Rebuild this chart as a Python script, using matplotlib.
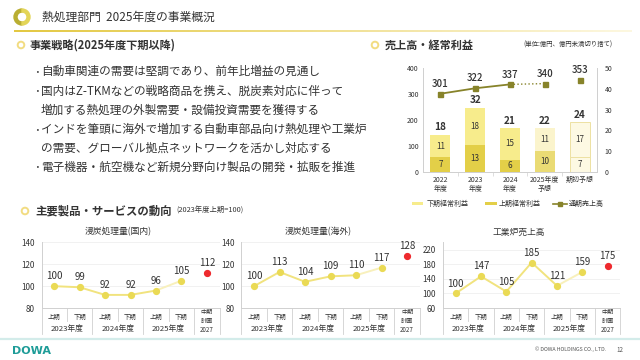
import matplotlib
matplotlib.use('Agg')
import matplotlib.pyplot as plt
from matplotlib.patches import Circle, Wedge, Rectangle
from matplotlib.collections import LineCollection
import numpy as np

plt.rcParams['font.family'] = ['Noto Sans CJK JP', 'DejaVu Sans']

# ---- data ----
strategy_bullets = [
    '自動車関連の需要は堅調であり、前年比増益の見通し',
    '国内はZ-TKMなどの戦略商品を携え、脱炭素対応に伴って',
    '増加する熱処理の外製需要・設備投資需要を獲得する',
    'インドを筆頭に海外で増加する自動車部品向け熱処理や工業炉',
    'の需要、グローバル拠点ネットワークを活かし対応する',
    '電子機器・航空機など新規分野向け製品の開発・拡販を推進',
]
bullet_start = [True, True, False, True, False, True]

bar_cats = ['2022\n年度', '2023\n年度', '2024\n年度', '2025年度\n予想', '期初予想']
sales = [301, 322, 337, 340, 353]
profit_h1 = [7, 13, 6, 10, 7]
profit_h2 = [11, 18, 15, 11, 17]
profit_total = [18, 32, 21, 22, 24]

period_labels = ['上期', '下期', '上期', '下期', '上期', '下期']
plan_label = '中期\n計画\n2027'
year_labels = ['2023年度', '2024年度', '2025年度']
domestic = [100, 99, 92, 92, 96, 105, 112]
overseas = [100, 113, 104, 109, 110, 117, 128]
furnace = [100, 147, 105, 185, 121, 159, 175]

TXT = '#333333'
W, H = 640, 360
fig = plt.figure(figsize=(6.4, 3.6), dpi=100)


def box(l, t, r, b):
    return [l / W, 1 - b / H, (r - l) / W, (b - t) / H]


bg = fig.add_axes([0, 0, 1, 1])
bg.set_xlim(0, W)
bg.set_ylim(H, 0)
bg.axis('off')

# title + ring
bg.add_patch(Wedge((22, 17), 8, 90, 270, width=3, color='#B9AE32'))
bg.add_patch(Wedge((22, 17), 8, -90, 90, width=3, color='#E3D558'))
bg.text(42, 17, '熱処理部門  2025年度の事業概況', fontsize=8.5, color=TXT, va='center')

# gold rule fading to the right
xs = np.linspace(14, 632, 160)
segs = [[(xs[i], 31), (xs[i + 1], 31)] for i in range(len(xs) - 1)]
t = np.linspace(0, 1, len(segs))
c0 = np.array([0.89, 0.78, 0.24])
c1 = np.array([0.99, 0.97, 0.88])
cols = [tuple(c0 * (1 - v) + c1 * v) for v in t]
bg.add_collection(LineCollection(segs, colors=cols, linewidths=1.4))

# section headers
for cx, cy in [(21, 45), (375, 45), (25, 211)]:
    bg.add_patch(Circle((cx, cy), 3.3, fill=False, lw=1.4, ec='#F2DC82'))
bg.text(30, 45, '事業戦略(2025年度下期以降)', fontsize=8, fontweight='bold', color=TXT, va='center')
bg.text(385, 45, '売上高・経常利益', fontsize=8, fontweight='bold', color=TXT, va='center')
bg.text(523, 45, '(単位:億円、億円未満切り捨て)', fontsize=4.6, color=TXT, va='center')
bg.text(35, 211, '主要製品・サービスの動向', fontsize=8.2, fontweight='bold', color=TXT, va='center')
bg.text(176, 211, '(2023年度上期=100)', fontsize=5.3, color=TXT, va='center')

# bullets
line_y = [71.5, 91, 110, 129.5, 148.5, 167]
for txt, y, dot in zip(strategy_bullets, line_y, bullet_start):
    if dot:
        bg.text(34.5, y, '･', fontsize=8.4, color=TXT, va='center', ha='left')
    bg.text(41, y, txt, fontsize=8.4, color=TXT, va='center')

# footer
bg.plot([0, W], [339, 339], color='#D3ECEA', lw=1.6)
bg.text(12, 351, 'DOWA', fontsize=8, fontweight='bold', color='#1E9C98', va='center',
        family='DejaVu Sans')
bg.text(571, 349.5, '© DOWA HOLDINGS CO., LTD.', fontsize=3.8, color='#555555', va='center', ha='center')
bg.text(620, 349.5, '12', fontsize=4.5, color='#555555', va='center', ha='center')

# ---- sales / profit chart ----
bx = np.arange(len(bar_cats))
ax_s = fig.add_axes(box(423, 68, 597, 172))
ax_p = ax_s.twinx()
ax_s.set_zorder(ax_p.get_zorder() + 1)
ax_s.patch.set_visible(False)

h1_cols = ['#E3CF48', '#E3CF48', '#E3CF48', '#EADB74', '#FDF9E3']
h2_cols = ['#F7EC8C', '#F7EC8C', '#F7EC8C', '#FBF4CC', '#FDF9E3']
edges = ['none', 'none', 'none', 'none', '#EDE1A2']
ax_p.bar(bx, profit_h1, width=0.58, color=h1_cols, edgecolor=edges, linewidth=0.7)
ax_p.bar(bx, profit_h2, width=0.58, bottom=profit_h1, color=h2_cols, edgecolor=edges, linewidth=0.7)
for i in bx:
    ax_p.text(i, profit_h1[i] / 2, str(profit_h1[i]), ha='center', va='center', fontsize=5.8, color=TXT)
    ax_p.text(i, profit_h1[i] + profit_h2[i] / 2, str(profit_h2[i]), ha='center', va='center',
              fontsize=5.8, color=TXT)
    ax_p.annotate(str(profit_total[i]), (i, profit_h1[i] + profit_h2[i]), xytext=(0, 1.5),
                  textcoords='offset points', ha='center', va='bottom', fontsize=7.2,
                  fontweight='bold', color=TXT)

olive = '#87832A'
ax_s.plot(bx[:3], sales[:3], '-s', color=olive, lw=1.3, ms=3.6)
ax_s.plot(bx[2:4], sales[2:4], ':', color=olive, lw=1.0)
ax_s.plot(bx[3:], sales[3:], 's', color=olive, ms=3.6)
for i in bx:
    ax_s.annotate(str(sales[i]), (i, sales[i]), xytext=(0, 3.5), textcoords='offset points',
                  ha='center', va='bottom', fontsize=7, fontweight='medium', color=TXT)

ax_s.set_xlim(-0.5, 4.5)
ax_s.set_ylim(0, 400)
ax_p.set_ylim(0, 50)
ax_s.set_yticks(range(0, 401, 100))
ax_p.set_yticks(range(0, 51, 10))
ax_s.set_xticks(bx, bar_cats)
ax_s.set_xticks(bx[:-1] + 0.5, minor=True)
ax_s.tick_params(axis='x', which='major', length=0, pad=3, labelsize=5, labelcolor=TXT)
ax_s.tick_params(axis='x', which='minor', length=3, color='#D8D8D8', width=0.6)
for a in (ax_s, ax_p):
    for k, sp in a.spines.items():
        sp.set_color('#D0D0D0')
        sp.set_linewidth(0.7)
    a.spines['top'].set_visible(False)
for lab in ax_s.get_xticklabels():
    lab.set_linespacing(1.15)
ax_s.tick_params(axis='y', length=0, pad=3, labelsize=5, labelcolor=TXT)
ax_p.tick_params(axis='y', length=0, pad=5.5, labelsize=5, labelcolor=TXT)

# legend
bg.add_patch(Rectangle((412, 202), 11, 3, color='#F7EC8C', lw=0))
bg.text(427, 203.5, '下期経常利益', fontsize=5, color=TXT, va='center')
bg.add_patch(Rectangle((485, 202), 12, 3, color='#E3CF48', lw=0))
bg.text(499, 203.5, '上期経常利益', fontsize=5, color=TXT, va='center')
bg.plot([553, 567], [203.5, 203.5], color=olive, lw=1.2)
bg.plot([560], [203.5], 's', color=olive, ms=3)
bg.text(569, 203.5, '通期売上高', fontsize=5, color=TXT, va='center')


# ---- trend charts ----
def trend(rect, vals, ylim, ticks, title):
    ax = fig.add_axes(box(*rect))
    n = len(vals)
    xi = np.arange(n)
    ax.set_xlim(-0.5, n - 0.5)
    ax.set_ylim(*ylim)
    ax.set_yticks(ticks)
    ax.set_xticks([])
    ax.grid(axis='y', color='#EFEFEF', lw=0.6)
    ax.set_axisbelow(True)
    for k in ('top', 'right'):
        ax.spines[k].set_visible(False)
    for k in ('left', 'bottom'):
        ax.spines[k].set_color('#D0D0D0')
        ax.spines[k].set_linewidth(0.7)
    ax.tick_params(axis='y', length=0, pad=5, labelsize=5.8, labelcolor=TXT)
    ax.plot(xi[:5], vals[:5], color='#F1E37E', lw=1.4, zorder=2)
    ax.plot(xi[4:6], vals[4:6], color='#F8F0BC', lw=1.4, zorder=2)
    ax.plot(xi[:6], vals[:6], 'o', color='#EADA55', ms=4.2, zorder=3)
    ax.plot(xi[6:], vals[6:], 'o', color='#EE2A2E', ms=4.2, zorder=3)
    for i, v in enumerate(vals):
        ax.annotate(str(v), (i, v), xytext=(0, 3.5), textcoords='offset points',
                    ha='center', va='bottom', fontsize=7, color=TXT)
    tr = ax.get_xaxis_transform()
    hpx = rect[3] - rect[1]
    for i, lab in enumerate(period_labels):
        ax.text(i, -8.7 / hpx, lab, transform=tr, ha='center', va='center', fontsize=4.6, color=TXT)
    ax.text(6, -12.7 / hpx, plan_label, transform=tr, ha='center', va='center', fontsize=4.4,
            color=TXT, linespacing=1.15)
    for j, lab in enumerate(year_labels):
        ax.text(2 * j + 0.5, -20.7 / hpx, lab, transform=tr, ha='center', va='center',
                fontsize=5.6, color=TXT)
    for xv in (0.5, 2.5, 4.5):
        ax.plot([xv, xv], [0, -12.5 / hpx], transform=tr, color='#D0D0D0', lw=0.6, clip_on=False)
    for xv in (-0.5, 1.5, 3.5, 5.5, 6.5):
        ax.plot([xv, xv], [0, -25.5 / hpx], transform=tr, color='#D0D0D0', lw=0.6, clip_on=False)
    ax.text(2.5, 1 + 10.5 / hpx, title, transform=ax.get_xaxis_transform(), ha='center',
            va='center', fontsize=6.3, color=TXT)
    return ax


trend((41.5, 242.5, 219.5, 308), domestic, (80, 140), range(80, 141, 20), '浸炭処理量(国内)')
trend((241.3, 242.5, 419.8, 308), overseas, (80, 140), range(80, 141, 20), '浸炭処理量(海外)')
trend((443, 242.5, 620.3, 308), furnace, (60, 240), range(60, 221, 40), '工業炉売上高')

fig.savefig('out.png', dpi=100)
